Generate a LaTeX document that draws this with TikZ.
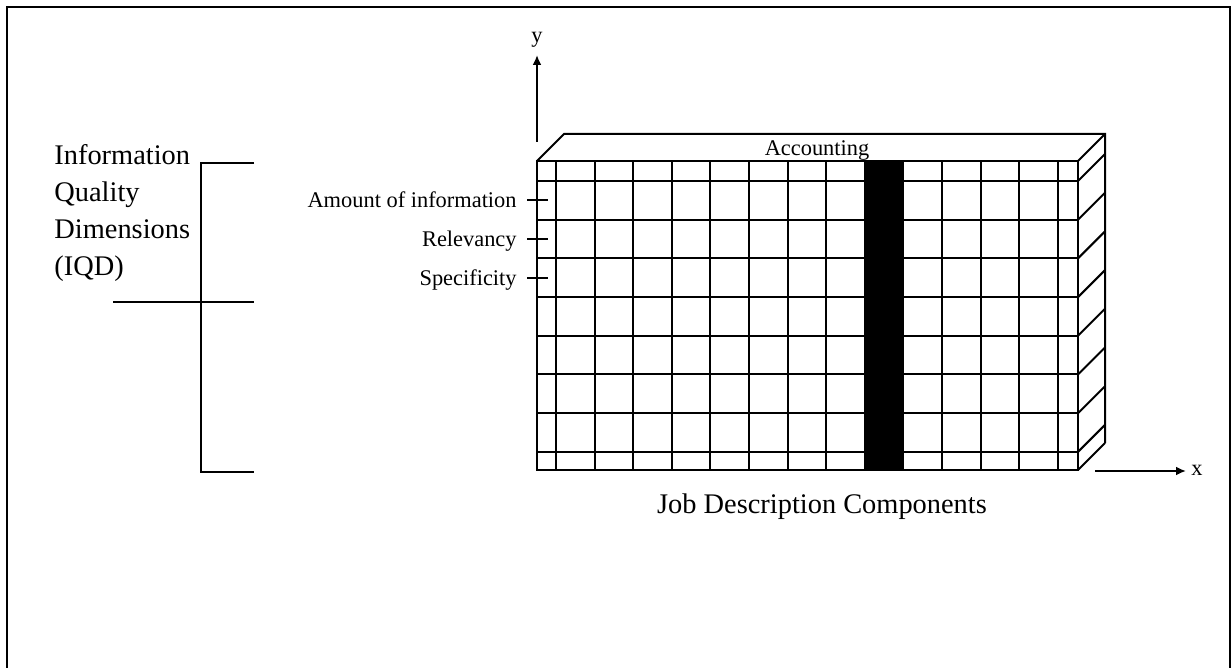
\documentclass[tikz,border=0pt]{standalone}
\usepackage{fontspec}
\setmainfont{Liberation Serif}
\usetikzlibrary{calc,arrows.meta}
\tikzset{x=0.5pt, y=-0.5pt,
	grid line/.style={draw=black, line width=1pt},
	frame line/.style={draw=black, line width=1.2pt},
	axis arrow/.style={draw=black, line width=1pt, -{Latex[length=5pt,width=4.5pt]}},
	big label/.style={font=\fontsize{14.2}{18.5}\selectfont, inner sep=0pt},
	small label/.style={font=\fontsize{11.2}{13}\selectfont, inner sep=0pt}
}
\def\depth{27}

\begin{document}
\begin{tikzpicture}
	\useasboundingbox (0,0) rectangle (1232,668);
	\draw[frame line] (7,668) -- (7,7) -- (1230,7) -- (1230,668);

	\fill[black] (864.8,161) rectangle (903.4,470);
	\foreach \x in {556,594.6,633.2,671.8,710.4,749,787.6,826.2,864.8,903.4,942,980.6,1019.2,1057.8}
	\draw[grid line] (\x,161) -- (\x,470);
	\foreach \y in {161,181,219.7,258.4,297.1,335.8,374.5,413.2,451.9,470}{
		\draw[grid line] (537,\y) -- (1078,\y);
		\draw[grid line] (1078,\y) -- +(\depth,-\depth);
	}
	\draw[grid line] (537,161) rectangle (1078,470);
	\draw[grid line] (537,161) -- ++(\depth,-\depth) -- (1105,134) -- (1105,443);

	\node[small label, anchor=base] (Accounting) at (817,156) {Accounting};
	\node[big label, anchor=base] (Components) at (822,513) {Job Description Components};

	\foreach \y/\name/\txt in {200.3/Amount/Amount of information, 239/Relevancy/Relevancy, 277.7/Specificity/Specificity}{
		\node[small label, anchor=base east] (\name) at (517,{\y+7.5}) {\txt};
		\coordinate (\name-a) at (527,\y);
		\coordinate (\name-b) at (548,\y);
		\draw[grid line] (\name-a) -- (\name-b);
	}

	\coordinate (Ytail) at (537,142);
	\coordinate (Ytip) at (537,55);
	\draw[axis arrow] (Ytail) -- (Ytip);
	\node[small label, anchor=base] (Y) at (537,43) {y};
	\coordinate (Xtail) at (1095,471);
	\coordinate (Xtip) at (1186,471);
	\draw[axis arrow] (Xtail) -- (Xtip);
	\node[small label, anchor=base] (X) at (1197,475) {x};

	\node[big label, anchor=north west, align=left] (IQD) at (54,144)
	{Information\\Quality\\Dimensions\\(IQD)};
	\coordinate (Btop) at (201,163);
	\coordinate (Bmid) at (201,302);
	\coordinate (Bbot) at (201,472);
	\draw[grid line] ($(Btop)+(53,0)$) -- (Btop) -- (Bbot) -- ($(Bbot)+(53,0)$);
	\draw[grid line] ($(Bmid)+(-88,0)$) -- ($(Bmid)+(53,0)$);
\end{tikzpicture}
\end{document}
